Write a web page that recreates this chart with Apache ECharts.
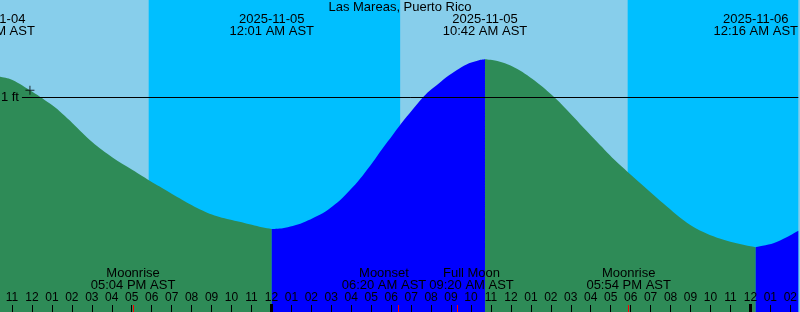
<!DOCTYPE html>
<html><head><meta charset="utf-8">
<script src="https://cdn.jsdelivr.net/npm/echarts@6/dist/echarts.min.js"></script>
<style>html,body{margin:0;padding:0;background:#87CEEB}#c{width:800px;height:312px}</style>
</head><body><div id="c"></div>
<script>
// All times are hours relative to 2025-11-05 00:00 AST
const titleText = 'Las Mareas, Puerto Rico';
const axisStartHour = -13.6;
const axisEndHour = 26.4;

// tide height (ft)
const tideHours = [-14.0, -13.6, -13.1, -12.6, -12.1, -11.6, -11.1, -10.6, -10.1, -9.6, -9.1, -8.6, -8.1, -7.6, -7.1, -6.6,
  -6.1, -5.6, -5.1, -4.6, -4.1, -3.6, -3.1, -2.6, -2.1, -1.6, -1.1, -0.6, -0.1, 0.017,
  0.567, 1.067, 1.567, 2.067, 2.567, 3.067, 3.567, 4.067, 4.567, 5.067, 5.567, 6.067, 6.485, 7.065, 7.55, 7.9, 8.4, 8.9, 9.4, 9.9, 10.4, 10.7,
  11.2, 11.7, 12.2, 12.7, 13.2, 13.7, 14.2, 14.7, 15.2, 15.7, 16.2, 16.7, 17.2, 17.85, 18.5, 19.15, 19.8, 20.5, 21.15, 21.8, 22.5, 23.15, 23.8, 24.267,
  25.15, 25.815, 26.4];
const tideFeet = [1.138, 1.133, 1.119, 1.087, 1.046, 1.005, 0.961, 0.911, 0.852, 0.788, 0.727, 0.674, 0.628, 0.585, 0.546, 0.506,
  0.467, 0.429, 0.391, 0.354, 0.317, 0.283, 0.255, 0.234, 0.218, 0.203, 0.187, 0.172, 0.160, 0.157,
  0.162, 0.176, 0.197, 0.226, 0.258, 0.303, 0.358, 0.424, 0.499, 0.583, 0.673, 0.758, 0.830, 0.921, 0.995, 1.040, 1.092, 1.142, 1.185, 1.219, 1.239, 1.245,
  1.237, 1.219, 1.190, 1.153, 1.108, 1.056, 0.998, 0.935, 0.867, 0.798, 0.730, 0.664, 0.599, 0.523, 0.449, 0.375, 0.303, 0.228, 0.170, 0.128, 0.094, 0.070, 0.051, 0.040,
  0.065, 0.104, 0.146];

// tide extremes
const extremeHours = [-13.97, 0.017, 10.7, 24.267];
const extremeKinds = ['high', 'low', 'high', 'low'];
const extremeDates = ['2025-11-04', '2025-11-05', '2025-11-05', '2025-11-06'];
const extremeTimes = ['10:02 AM AST', '12:01 AM AST', '10:42 AM AST', '12:16 AM AST'];

// moon events
const moonHours = [-6.933, 6.333, 9.333, 17.9];
const moonNames = ['Moonrise', 'Moonset', 'Full Moon', 'Moonrise'];
const moonTimes = ['05:04 PM AST', '06:20 AM AST', '09:20 AM AST', '05:54 PM AST'];

// night intervals (sunset -> sunrise)
const nightStarts = [-6.15, 17.85];
const nightEnds = [6.45, 26.4];

// hour ticks
const hourTicks = [-13,-12,-11,-10,-9,-8,-7,-6,-5,-4,-3,-2,-1,0,1,2,3,4,5,6,7,8,9,10,11,12,13,14,15,16,17,18,19,20,21,22,23,24,25,26];
const hourLabels = ['11','12','01','02','03','04','05','06','07','08','09','10','11','12','01','02','03','04','05','06','07','08','09','10','11','12','01','02','03','04','05','06','07','08','09','10','11','12','01','02'];
const midnightHours = [0, 24];

const datumFeet = 1;
const datumLabel = '1 ft';
const datumStartHour = -12.5;
const nowHour = -12.1;
const nowFeet = 1.046;

const FONT_FAMILY = '"Liberation Sans", Arial, sans-serif';
const FS = 13;
const GREEN = '#2E8B57', BLUE = '#0000FF', DAY = '#87CEEB', NIGHT = '#00BFFF';

// rising when between a low and the next high; falling between a high and the next low
function inPhase(h, kind) {
  for (let i = 0; i < extremeHours.length; i++) {
    if (extremeKinds[i] === kind) {
      const next = i + 1 < extremeHours.length ? extremeHours[i + 1] : Infinity;
      if (h >= extremeHours[i] && h <= next) return true;
    }
  }
  if (h <= extremeHours[0]) return extremeKinds[0] !== kind;
  return false;
}
const risingData = tideHours.map((h, i) => [h, inPhase(h, 'low') ? tideFeet[i] : null]);
const fallingData = tideHours.map((h, i) => [h, inPhase(h, 'high') ? tideFeet[i] : null]);

const measureCtx = document.createElement('canvas').getContext('2d');
measureCtx.font = FS + 'px ' + FONT_FAMILY;
function textW(s) { return measureCtx.measureText(s).width; }

function layoutX(hours, lineArrays, api) {
  const items = hours.map((h, i) => ({
    x: api.coord([h, 0])[0],
    w: Math.max.apply(null, lineArrays.map(a => textW(a[i])))
  }));
  for (let it = 0; it < 10; it++) {
    for (let i = 1; i < items.length; i++) {
      const a = items[i - 1], b = items[i];
      const need = (a.w + b.w) / 2 + 3;
      const d = b.x - a.x;
      if (d < need) { const s = (need - d) / 2; a.x -= s; b.x += s; }
    }
  }
  return items.map(it => it.x);
}

function labelSeries(hours, line1, line2, yCenter) {
  return {
    type: 'custom',
    z: 10,
    silent: true,
    data: hours.map(h => [h, 0]),
    encode: { x: 0, y: 1 },
    renderItem: function (params, api) {
      const xs = layoutX(hours, [line1, line2], api);
      const i = params.dataIndex;
      return {
        type: 'text',
        style: {
          text: line1[i] + '\n' + line2[i],
          x: xs[i], y: yCenter,
          align: 'center', verticalAlign: 'middle',
          fill: '#000', fontSize: FS, fontFamily: FONT_FAMILY, lineHeight: 12
        }
      };
    }
  };
}

function tickAxis(values, color, width, length) {
  return {
    type: 'value', min: axisStartHour, max: axisEndHour, position: 'bottom', z: 21,
    axisLine: { show: false, onZero: false }, splitLine: { show: false },
    axisLabel: { show: false },
    axisTick: { show: true, inside: true, length: length, customValues: values, lineStyle: { color: color, width: width } }
  };
}

const chart = echarts.init(document.getElementById('c'), null, { renderer: 'canvas' });
chart.setOption({
  animation: false,
  backgroundColor: DAY,
  title: {
    text: titleText, left: 'center', top: 1, padding: 0,
    textStyle: { fontSize: FS, fontWeight: 'normal', color: '#000', fontFamily: FONT_FAMILY, lineHeight: 13 }
  },
  grid: { left: 0, right: 0, top: 0, bottom: 0, show: true, backgroundColor: DAY, borderWidth: 0 },
  xAxis: [
    {
      type: 'value', min: axisStartHour, max: axisEndHour, position: 'bottom', z: 20,
      axisLine: { show: false, onZero: false }, splitLine: { show: false },
      axisTick: { show: true, inside: true, length: 7, customValues: hourTicks, lineStyle: { color: '#000', width: 1 } },
      axisLabel: {
        show: true, inside: true, customValues: hourTicks, margin: 8,
        color: '#000', fontSize: 12, fontFamily: FONT_FAMILY, lineHeight: 12,
        formatter: v => hourLabels[hourTicks.indexOf(Math.round(v))]
      }
    },
    tickAxis(midnightHours, '#000', 3, 8),
    tickAxis(moonHours, '#FF0000', 1, 7)
  ],
  yAxis: { type: 'value', min: -0.375, max: 1.625, show: false },
  series: [
    {
      type: 'line', name: 'falling', data: fallingData, smooth: 0.3, showSymbol: false, z: 2,
      lineStyle: { width: 0 }, areaStyle: { color: GREEN, opacity: 1, origin: 'start' }, silent: true,
      markArea: {
        silent: true, itemStyle: { color: NIGHT },
        data: nightStarts.map((s, i) => [{ xAxis: s }, { xAxis: nightEnds[i] }])
      },
      markLine: {
        silent: true, symbol: ['none', 'none'],
        lineStyle: { color: '#000', width: 1, type: 'solid' },
        label: { show: true, position: 'start', formatter: datumLabel, color: '#000', fontSize: FS, fontFamily: FONT_FAMILY, distance: 3 },
        data: [[{ coord: [datumStartHour, datumFeet] }, { coord: [axisEndHour, datumFeet] }]]
      }
    },
    {
      type: 'line', name: 'rising', data: risingData, smooth: 0.3, showSymbol: false, z: 2,
      lineStyle: { width: 0 }, areaStyle: { color: BLUE, opacity: 1, origin: 'start' }, silent: true
    },
    {
      type: 'scatter', data: [[nowHour, nowFeet]], z: 6, silent: true,
      symbol: 'path://M4,0h1v9h-1zM0,4h9v1h-9z', symbolSize: 9, itemStyle: { color: '#000' }
    },
    labelSeries(extremeHours, extremeDates, extremeTimes, 25.5),
    labelSeries(moonHours, moonNames, moonTimes, 279.8)
  ]
});
</script></body></html>
